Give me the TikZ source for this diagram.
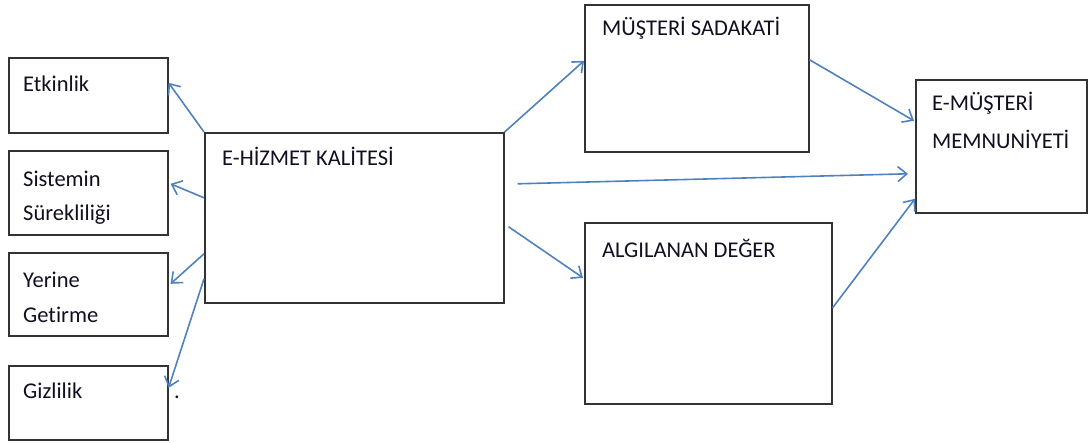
\documentclass[tikz,border=0pt]{standalone}
\usepackage{fontspec}
\setmainfont{Carlito}[Ligatures=NoCommon]
\usetikzlibrary{arrows.meta,calc}
\definecolor{arrowblue}{HTML}{4F81BD}
\definecolor{boxgray}{HTML}{333333}
\definecolor{txt}{HTML}{101020}
\begin{document}
\begin{tikzpicture}[x=1pt,y=-1pt,
  box/.style={draw=boxgray, line width=1.6pt, rectangle, inner sep=0pt, anchor=north west, fill=white},
  lbl/.style={anchor=base west, inner sep=0pt, text=txt, font=\fontsize{22.5}{27}\selectfont},
  conn/.style={draw=arrowblue, line width=1.6pt, -{Straight Barb[length=9pt,width=15pt,line width=1.6pt]}}]
\useasboundingbox (0,0) rectangle (1089,442);
% left boxes
\node[box, minimum width=159pt, minimum height=75pt] (etk) at (8,57) {};
\node[box, minimum width=159pt, minimum height=84pt] (sis) at (8,150) {};
\node[box, minimum width=159pt, minimum height=83pt] (yer) at (8,252) {};
\node[box, minimum width=159pt, minimum height=74pt] (giz) at (8,365) {};
% central
\node[box, minimum width=299pt, minimum height=170pt] (hiz) at (204,132) {};
\node[box, minimum width=224pt, minimum height=147pt] (sad) at (584,4) {};
\node[box, minimum width=247pt, minimum height=181pt] (deg) at (584,222) {};
\node[box, minimum width=171pt, minimum height=133pt] (mem) at (915,79) {};
% texts
\node[lbl] (etkT) at (23,91) {Etkinlik};
\node[lbl] (sisT1) at (23,186) {Sistemin};
\node[lbl] (sisT2) at (23,220) {Sürekliliği};
\node[lbl] (yerT1) at (23,287) {Yerine};
\node[lbl] (yerT2) at (23,322) {Getirme};
\node[lbl] (gizT) at (23,398) {Gizlilik};
\node[lbl] (dot) at (174,398) {.};
\node[lbl] (hizT) at (222,165) {E-HİZMET KALİTESİ};
\node[lbl] (sadT) at (602,35) {MÜŞTERİ SADAKATİ};
\node[lbl] (degT) at (602,257) {ALGILANAN DEĞER};
\node[lbl] (memT1) at (932,110) {E-MÜŞTERİ};
\node[lbl] (memT2) at (932,148) {MEMNUNİYETİ};
% connectors
\draw[conn] (hiz.north west) -- ([yshift=12.5pt]etk.east);
\draw[conn] ([yshift=20pt]hiz.west) -- ([xshift=2pt,yshift=9pt]sis.east);
\draw[conn] ([yshift=-36pt]hiz.west) -- ([xshift=2pt,yshift=10.5pt]yer.east);
\draw[conn] ([yshift=-61pt]hiz.west) -- ([yshift=15pt]giz.east);
\draw[conn] (hiz.north east) -- ([yshift=17.5pt]sad.west);
\draw[conn] ([yshift=18.5pt]sad.east) -- ([xshift=-1pt,yshift=25.5pt]mem.west);
\draw[conn] ([xshift=13pt,yshift=34pt]hiz.east) -- ([xshift=-7pt,yshift=-27.5pt]mem.west);
\draw[conn] ([xshift=4pt,yshift=-9pt]hiz.east) -- ([xshift=-1pt,yshift=35.5pt]deg.west);
\draw[conn] ([yshift=5.5pt]deg.east) -- ([yshift=-52.5pt]mem.west);
\end{tikzpicture}
\end{document}
